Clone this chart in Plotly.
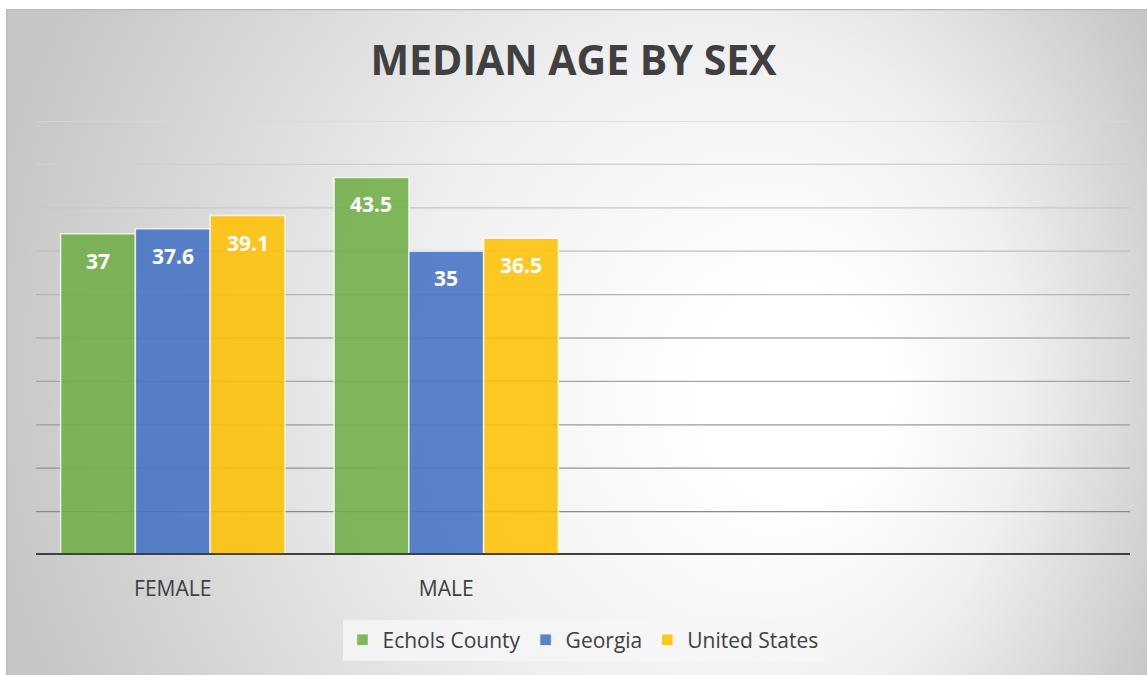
import base64
import plotly.graph_objects as go

# Chart data
categories = ["FEMALE", "MALE", "", ""]
series_names = ["Echols County", "Georgia", "United States"]
echols_county = [37, 43.5]
georgia = [37.6, 35]
united_states = [39.1, 36.5]
series_values = [echols_county, georgia, united_states]
series_colors = ["rgba(112,173,71,0.88)", "rgba(68,114,196,0.88)", "rgba(255,192,0,0.86)"]

y_max = 50
y_step = 5
bar_gap = 0.18

W, H = 1147, 675
# plot area in pixels
L, R, T, B = 36, 17, 121, 120
plot_w = W - L - R
plot_h = H - T - B

fig = go.Figure()
x_idx = list(range(len(categories)))
for name, vals, col in zip(series_names, series_values, series_colors):
    fig.add_trace(go.Bar(
        name=name,
        x=x_idx[:len(vals)],
        y=vals,
        marker=dict(color=col, line=dict(color="rgba(255,255,255,0.75)", width=1.5)),
        hoverinfo="skip",
    ))

# value labels just inside the top of each bar
n = len(series_values)
bw = (1 - bar_gap) / n
for j, vals in enumerate(series_values):
    for i, v in enumerate(vals):
        fig.add_annotation(
            x=i + (j - (n - 1) / 2) * bw, y=v, xref="x", yref="y",
            text=f"{v:g}", showarrow=False, yanchor="middle", yshift=-27,
            font=dict(family="Open Sans", size=21, color="white", weight="bold"),
        )

# horizontal gridlines, fading lighter toward the top
for k in range(1, y_max // y_step + 1):
    v = k * y_step
    t = (v - y_step) / (y_max - y_step)
    g = int(round(0x8a + (0xd8 - 0x8a) * t))
    fig.add_shape(type="line", xref="paper", yref="y", x0=0, x1=1, y0=v, y1=v,
                  line=dict(color=f"rgb({g},{g},{g})", width=1.3), layer="below")

# baseline
fig.add_shape(type="line", xref="paper", yref="y", x0=0, x1=1, y0=0, y1=0,
              line=dict(color="#404040", width=4), layer="above")

# radial background of the chart panel (off-centre focus)
ox, oy = 6, 9
bw_px, bh_px = W - ox, H - oy
gcx, gcy, grx, gry = 600 - ox, 360 - oy, 620, 700
fx, fy = (830 - 600) / grx, (400 - 360) / gry
svg = f'''<svg xmlns="http://www.w3.org/2000/svg" width="{bw_px}" height="{bh_px}" viewBox="0 0 {bw_px} {bh_px}" preserveAspectRatio="none">
<defs><radialGradient id="g" gradientUnits="userSpaceOnUse" cx="0" cy="0" r="1" fx="{fx:.3f}" fy="{fy:.3f}" gradientTransform="translate({gcx} {gcy}) scale({grx} {gry})">
<stop offset="0.15" stop-color="#ffffff"/><stop offset="0.5" stop-color="#efefef"/><stop offset="1" stop-color="#c6c6c6"/></radialGradient></defs>
<rect x="0" y="0" width="{bw_px}" height="{bh_px}" fill="url(#g)"/>
<path d="M0.5 {bh_px} V0.5 H{bw_px}" fill="none" stroke="#b8b8b8" stroke-width="1.5"/>
</svg>'''
src = "data:image/svg+xml;base64," + base64.b64encode(svg.encode()).decode()
fig.add_layout_image(
    source=src, xref="paper", yref="paper",
    x=(ox - L) / plot_w, y=(H - B - oy) / plot_h,
    sizex=bw_px / plot_w, sizey=bh_px / plot_h,
    xanchor="left", yanchor="top", sizing="stretch", layer="below",
)

fig.update_layout(
    width=W, height=H,
    margin=dict(l=L, r=R, t=T, b=B),
    paper_bgcolor="white",
    plot_bgcolor="rgba(0,0,0,0)",
    barmode="group",
    bargap=bar_gap,
    bargroupgap=0,
    title=dict(text="<b>MEDIAN AGE BY SEX</b>", x=0.5, xanchor="center", y=1 - 61 / H, yanchor="middle",
               font=dict(family="Open Sans", size=41, color="#404040")),
    xaxis=dict(
        range=[-0.5, len(categories) - 0.5],
        tickvals=x_idx, ticktext=categories,
        showgrid=False, zeroline=False, showline=False,
        ticks="outside", ticklen=15, tickcolor="rgba(0,0,0,0)",
        tickfont=dict(family="Open Sans", size=21, color="#404040"),
    ),
    yaxis=dict(range=[0, y_max], dtick=y_step, showgrid=False, zeroline=False,
               showticklabels=False, showline=False),
    legend=dict(
        orientation="h", x=0.5, xanchor="center", y=(H - B - 640) / plot_h, yanchor="middle",
        bgcolor="rgba(246,246,246,0.85)", borderwidth=0,
        font=dict(family="Open Sans", size=21, color="#404040"),
        itemwidth=30, tracegroupgap=0,
    ),
    showlegend=True,
)

fig.write_html("out.html")
